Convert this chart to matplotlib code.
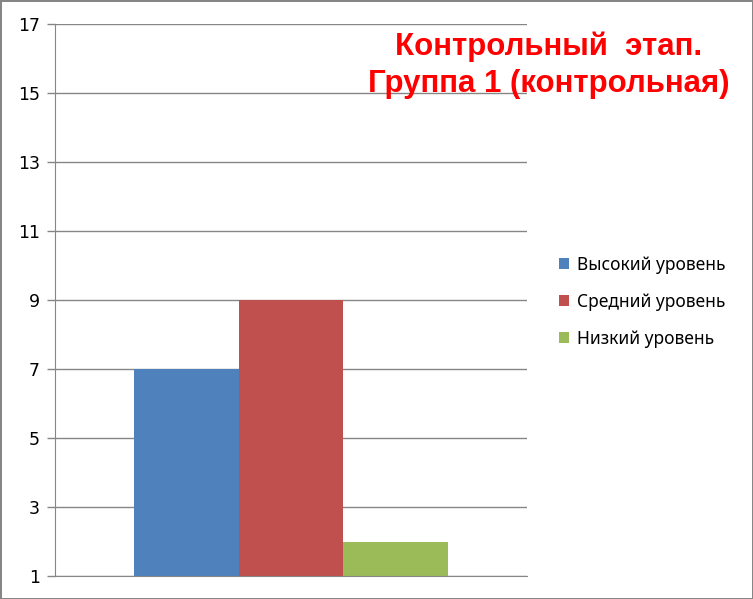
import numpy as np
import matplotlib
matplotlib.use("Agg")
import matplotlib.pyplot as plt

plt.rcParams['font.family'] = ['Noto Sans', 'DejaVu Sans']

# данные
series = ['Высокий уровень', 'Средний уровень', 'Низкий уровень']
values = [7, 9, 2]
colors = ['#4F81BD', '#C0504D', '#9BBB59']
yticks = [1, 3, 5, 7, 9, 11, 13, 15, 17]
title = 'Контрольный  этап.\nГруппа 1 (контрольная)'

grey = '#868686'

fig = plt.figure(figsize=(7.53, 5.99), dpi=100)
fig.patch.set_edgecolor(grey)
fig.patch.set_linewidth(2)

ax = fig.add_axes([0.073, 0.0384, 0.627, 0.9207])

w = 0.2214
offsets = (np.arange(len(values)) - 1) * w
for off, v, c, s in zip(offsets, values, colors, series):
    ax.bar(off, v, width=w, color=c, label=s, zorder=2)

ax.set_xlim(-0.5, 0.5)
ax.set_ylim(1, 17)
ax.set_yticks(yticks)
ax.set_xticks([])
ax.yaxis.grid(True, color=grey, linewidth=1, zorder=0)
ax.set_axisbelow(True)
for sp in ['top', 'right']:
    ax.spines[sp].set_visible(False)
for sp in ['left', 'bottom']:
    ax.spines[sp].set_color(grey)
    ax.spines[sp].set_zorder(3)
ax.tick_params(axis='y', colors=grey, length=6, width=1, labelsize=12.5,
               labelcolor='black', pad=5)
for lbl in ax.get_yticklabels():
    lbl.set_family('DejaVu Sans')

fig.legend(loc='center left', bbox_to_anchor=(0.733, 0.496),
           frameon=False, fontsize=12.5, handlelength=0.6, handleheight=0.6,
           handletextpad=0.45, labelspacing=1.1, borderaxespad=0)

fig.text(549 / 753, 1 - 32 / 599, title, ha='center', va='top',
         multialignment='center', color='#FF0000', fontsize=22.5,
         fontweight='bold', linespacing=1.3, family='Liberation Sans')

fig.savefig('out.png', dpi=100)
